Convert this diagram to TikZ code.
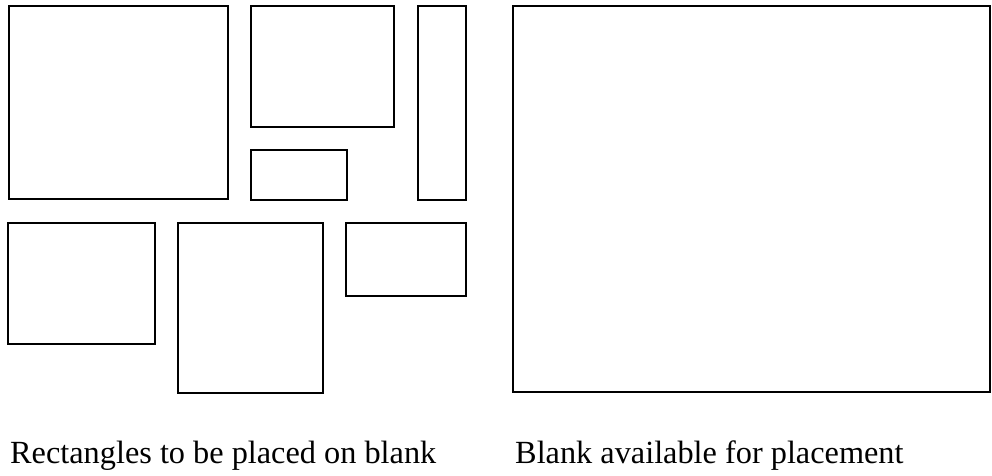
\documentclass[tikz,border=0pt]{standalone}
\usepackage{fontspec}
\setmainfont{Liberation Serif}
\usepackage{tikz}
\usetikzlibrary{positioning}
\tikzset{
  piece/.style={draw=black,line width=2.8pt,inner sep=0pt,outer sep=0pt,
    anchor=north west},
  caption/.style={anchor=base west,inner sep=0pt,font=\fontsize{32.3}{38}\selectfont},
}
% one unit = one point, y grows downward
\newcommand{\rectpiece}[5]{%
  \node[piece,minimum width=#4pt,minimum height=#5pt] (#1) at (#2,#3) {};}

\begin{document}
\begin{tikzpicture}[x=1pt,y=-1pt]
  \useasboundingbox (0,0) rectangle (992,475);
  % pieces to be cut
  \rectpiece{big}{9}{6}{219}{193}
  \rectpiece{mid}{251}{6}{143}{121}
  \rectpiece{tall}{418}{6}{48}{194}
  \rectpiece{slim}{251}{150}{96}{50}
  \rectpiece{left}{8}{223}{147}{121}
  \rectpiece{deep}{178}{223}{145}{170}
  \rectpiece{wide}{346}{223}{120}{73}
  % the sheet
  \node[piece,minimum width=477pt,minimum height=386pt] (sheet) at (513,6) {};
  \node[caption] (capL) at (10,463) {Rectangles to be placed on blank};
  \node[caption] (capR) at (515,463) {Blank available for placement};
\end{tikzpicture}
\end{document}
